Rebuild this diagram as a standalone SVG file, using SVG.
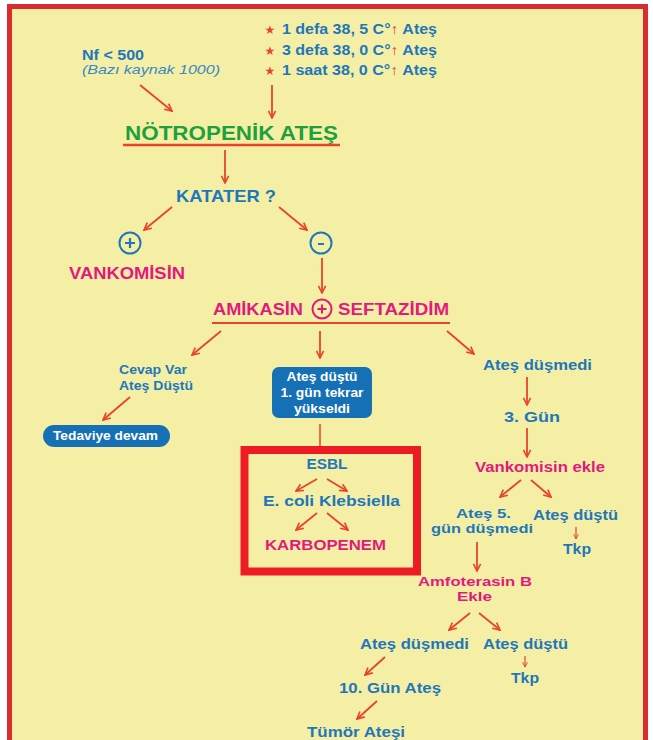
<svg xmlns="http://www.w3.org/2000/svg" width="653" height="740" viewBox="0 0 653 740">
<defs>
<marker id="ah" viewBox="0 0 10 10" refX="9" refY="5" markerWidth="5" markerHeight="5" orient="auto" markerUnits="strokeWidth">
<path d="M1,1 L9,5 L1,9" fill="none" stroke="#e8432b" stroke-width="1.8"/>
</marker>
<marker id="ahs" viewBox="0 0 10 10" refX="9" refY="5" markerWidth="5" markerHeight="5" orient="auto" markerUnits="strokeWidth">
<path d="M1,1 L9,5 L1,9" fill="none" stroke="#e8432b" stroke-width="1.6"/>
</marker>
<style>
text{font-family:"Liberation Sans",Arial,sans-serif;font-weight:bold}
.b{fill:#1f77bb}
.p{fill:#e3197f}
.g{fill:#1ea13b}
.w{fill:#ffffff}
.r{fill:#e8432b}
.st{fill:#e8432b;font-family:"DejaVu Sans",sans-serif;font-weight:normal}
.it{font-style:italic;font-weight:normal;fill:#3a88c6}
.a{stroke:#e8432b;stroke-width:1.8;fill:none;marker-end:url(#ah)}
.s{stroke:#e8432b;stroke-width:1.2;fill:none;marker-end:url(#ahs)}
.ln{stroke:#e8432b;fill:none}
</style>
</defs>
<rect x="0" y="0" width="653" height="740" fill="#ffffff"/>
<rect x="9.5" y="6.5" width="636" height="800" fill="#f4efa5" stroke="#d92b30" stroke-width="5"/>

<g id="criteria">
<text x="270" y="34" class="st" font-size="12" text-anchor="middle">★</text>
<text x="270" y="55" class="st" font-size="12" text-anchor="middle">★</text>
<text x="270" y="75" class="st" font-size="12" text-anchor="middle">★</text>
<text x="282" y="34" class="b" font-size="14" textLength="155" lengthAdjust="spacingAndGlyphs">1 defa 38, 5 C°<tspan class="r">↑</tspan> Ateş</text>
<text x="282" y="55" class="b" font-size="14" textLength="155" lengthAdjust="spacingAndGlyphs">3 defa 38, 0 C°<tspan class="r">↑</tspan> Ateş</text>
<text x="282" y="75" class="b" font-size="14" textLength="155" lengthAdjust="spacingAndGlyphs">1 saat 38, 0 C°<tspan class="r">↑</tspan> Ateş</text>
</g>
<g id="nf">
<text x="82" y="60" class="b" font-size="15" textLength="62" lengthAdjust="spacingAndGlyphs">Nf &lt; 500</text>
<text x="82" y="74" class="it" font-size="13" textLength="138" lengthAdjust="spacingAndGlyphs">(Bazı kaynak 1000)</text>
</g>
<g id="notropenik">
<text x="125" y="140" class="g" font-size="20" textLength="213" lengthAdjust="spacingAndGlyphs">NÖTROPENİK ATEŞ</text>
<line x1="123" y1="145" x2="340" y2="145" class="ln" stroke-width="2.5"/>
</g>
<g id="katater"><text x="176" y="202" class="b" font-size="17" textLength="100" lengthAdjust="spacingAndGlyphs">KATATER ?</text></g>
<g id="plus">
<circle cx="130" cy="243" r="10.5" fill="none" stroke="#1f77bb" stroke-width="2"/>
<path d="M125,243 H135 M130,238 V248" stroke="#1f77bb" stroke-width="2.2"/>
</g>
<g id="minus">
<circle cx="321" cy="243" r="10.5" fill="none" stroke="#1f77bb" stroke-width="2"/>
<path d="M318,244 H324" stroke="#1f77bb" stroke-width="2"/>
</g>
<g id="vankomisin"><text x="69" y="279" class="p" font-size="17" textLength="116" lengthAdjust="spacingAndGlyphs">VANKOMİSİN</text></g>
<g id="amikasin">
<text x="213" y="315" class="p" font-size="16" textLength="90" lengthAdjust="spacingAndGlyphs">AMİKASİN</text>
<circle cx="322" cy="309" r="9.5" fill="none" stroke="#e3197f" stroke-width="2"/>
<path d="M317.5,309 H326.5 M322,304.5 V313.5" stroke="#e3197f" stroke-width="2"/>
<text x="338" y="315" class="p" font-size="16" textLength="111" lengthAdjust="spacingAndGlyphs">SEFTAZİDİM</text>
<line x1="212" y1="323" x2="450" y2="323" class="ln" stroke-width="2"/>
</g>
<g id="cevap">
<text x="119" y="374" class="b" font-size="12" textLength="68" lengthAdjust="spacingAndGlyphs">Cevap Var</text>
<text x="119" y="390" class="b" font-size="12" textLength="74" lengthAdjust="spacingAndGlyphs">Ateş Düştü</text>
</g>
<g id="tedaviye">
<rect x="43" y="425" width="127" height="22" rx="11" fill="#1670b5"/>
<text x="53" y="440" class="w" font-size="12" textLength="105" lengthAdjust="spacingAndGlyphs">Tedaviye devam</text>
</g>
<g id="atesdustu1">
<rect x="272" y="367" width="100" height="51" rx="7" fill="#1670b5"/>
<text x="322" y="381" class="w" font-size="12.5" text-anchor="middle" textLength="71" lengthAdjust="spacingAndGlyphs">Ateş düştü</text>
<text x="322" y="397" class="w" font-size="12.5" text-anchor="middle" textLength="83" lengthAdjust="spacingAndGlyphs">1. gün tekrar</text>
<text x="322" y="413" class="w" font-size="12.5" text-anchor="middle" textLength="56" lengthAdjust="spacingAndGlyphs">yükseldi</text>
</g>
<g id="esblbox">
<rect x="244.5" y="450" width="172.5" height="121.5" fill="none" stroke="#ed1c24" stroke-width="8"/>
<text x="327" y="469" class="b" font-size="14" text-anchor="middle" textLength="41" lengthAdjust="spacingAndGlyphs">ESBL</text>
<text x="263" y="506" class="b" font-size="14" textLength="137" lengthAdjust="spacingAndGlyphs">E. coli  Klebsiella</text>
<text x="265" y="550" class="p" font-size="14" textLength="121" lengthAdjust="spacingAndGlyphs">KARBOPENEM</text>
</g>
<g id="right">
<text x="483" y="370" class="b" font-size="14" textLength="109" lengthAdjust="spacingAndGlyphs">Ateş düşmedi</text>
<text x="504" y="422" class="b" font-size="14" textLength="56" lengthAdjust="spacingAndGlyphs">3. Gün</text>
<text x="475" y="472" class="p" font-size="14" textLength="130" lengthAdjust="spacingAndGlyphs">Vankomisin ekle</text>
<text x="456" y="518" class="b" font-size="13" textLength="55" lengthAdjust="spacingAndGlyphs">Ateş 5.</text>
<text x="431" y="533" class="b" font-size="13" textLength="102" lengthAdjust="spacingAndGlyphs">gün düşmedi</text>
<text x="533" y="520" class="b" font-size="14" textLength="85" lengthAdjust="spacingAndGlyphs">Ateş düştü</text>
<text x="563" y="554" class="b" font-size="15" textLength="28" lengthAdjust="spacingAndGlyphs">Tkp</text>
<text x="418" y="586" class="p" font-size="13" textLength="114" lengthAdjust="spacingAndGlyphs">Amfoterasin B</text>
<text x="457" y="601" class="p" font-size="13" textLength="35" lengthAdjust="spacingAndGlyphs">Ekle</text>
<text x="360" y="649" class="b" font-size="14" textLength="109" lengthAdjust="spacingAndGlyphs">Ateş düşmedi</text>
<text x="483" y="649" class="b" font-size="14" textLength="85" lengthAdjust="spacingAndGlyphs">Ateş düştü</text>
<text x="511" y="683" class="b" font-size="15" textLength="28" lengthAdjust="spacingAndGlyphs">Tkp</text>
<text x="339" y="693" class="b" font-size="14" textLength="102" lengthAdjust="spacingAndGlyphs">10. Gün Ateş</text>
<text x="307" y="737" class="b" font-size="14" textLength="98" lengthAdjust="spacingAndGlyphs">Tümör Ateşi</text>
</g>
<g id="connectors">
<line x1="140" y1="85" x2="172" y2="111" class="a"/>
<line x1="272" y1="85" x2="272" y2="118" class="a"/>
<line x1="225" y1="150" x2="225" y2="183" class="a"/>
<line x1="172" y1="207" x2="144" y2="230" class="a"/>
<line x1="279" y1="207" x2="307" y2="230" class="a"/>
<line x1="322" y1="258" x2="322" y2="293" class="a"/>
<line x1="221" y1="331" x2="192" y2="355" class="a"/>
<line x1="320" y1="331" x2="320" y2="358" class="a"/>
<line x1="447" y1="331" x2="474" y2="354" class="a"/>
<line x1="130" y1="397" x2="103" y2="420" class="a"/>
<line x1="320" y1="424" x2="320" y2="446" class="ln" stroke-width="1.5"/>
<line x1="317" y1="479" x2="296" y2="491" class="a" stroke-width="1.5"/>
<line x1="327" y1="479" x2="347" y2="491" class="a" stroke-width="1.5"/>
<line x1="317" y1="513" x2="296" y2="530" class="a" stroke-width="1.5"/>
<line x1="327" y1="513" x2="348" y2="530" class="a" stroke-width="1.5"/>
<line x1="527" y1="377" x2="527" y2="405" class="a"/>
<line x1="527" y1="428" x2="527" y2="457" class="a"/>
<line x1="521" y1="480" x2="500" y2="497" class="a" stroke-width="1.5"/>
<line x1="531" y1="480" x2="551" y2="497" class="a" stroke-width="1.5"/>
<line x1="576" y1="527" x2="576" y2="539" class="s"/>
<line x1="477" y1="542" x2="477" y2="571" class="a"/>
<line x1="470" y1="613" x2="449" y2="630" class="a" stroke-width="1.5"/>
<line x1="479" y1="613" x2="500" y2="630" class="a" stroke-width="1.5"/>
<line x1="525" y1="656" x2="525" y2="667" class="s"/>
<line x1="385" y1="657" x2="365" y2="675" class="a" stroke-width="1.5"/>
<line x1="377" y1="701" x2="357" y2="719" class="a" stroke-width="1.5"/>
</g>
</svg>
